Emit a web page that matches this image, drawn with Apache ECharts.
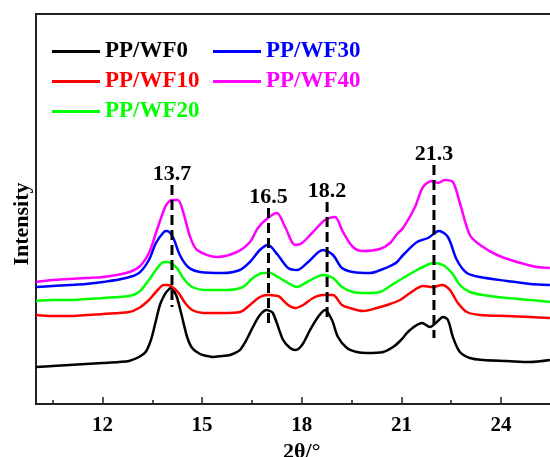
<!DOCTYPE html>
<html>
<head>
<meta charset="utf-8">
<script src="https://cdn.jsdelivr.net/npm/echarts@6/dist/echarts.min.js"></script>
<style>
  html, body { margin: 0; padding: 0; background: #fff; }
  #chart { width: 550px; height: 457px; }
</style>
</head>
<body>
<div id="chart"></div>
<script>
// XRD patterns of PP / wood-flour composites, [2θ (°), intensity (a.u.)]
const seriesNames = ['PP/WF0', 'PP/WF10', 'PP/WF20', 'PP/WF30', 'PP/WF40'];
const seriesColors = ['#000000', '#ff0000', '#00ff00', '#0000ff', '#ff00ff'];

const wf0 = [[10.0,37],[10.5,38],[11.0,39],[11.5,40],[12.0,41],[12.5,42],[12.8,43],[13.1,47],[13.3,52],[13.46,64],[13.6,82],[13.73,99],[13.85,108],[13.95,113],[14.06,116],[14.15,113],[14.24,107],[14.39,88],[14.55,67],[14.7,56],[14.94,50],[15.15,48],[15.33,47],[15.6,48],[15.84,49],[16.05,52],[16.14,54],[16.3,62],[16.38,67],[16.53,77],[16.74,89],[16.95,94],[17.04,93],[17.13,91],[17.25,81],[17.44,64],[17.65,56],[17.8,54],[18.01,59],[18.25,74],[18.49,87],[18.7,94],[18.91,84],[19.09,67],[19.36,56],[19.66,52],[19.96,51],[20.45,52],[20.75,57],[20.96,63],[21.26,74],[21.62,81],[21.86,77],[22.07,82],[22.25,87],[22.4,84],[22.55,67],[22.76,52],[23.06,46],[23.46,44],[24.18,43],[24.87,42],[25.47,44]];

const wf10 = [[10.0,89],[10.5,88],[11.0,88],[11.5,89],[12.02,90],[12.8,92],[13.1,96],[13.4,104],[13.61,112],[13.85,119],[13.95,119],[14.06,118],[14.27,112],[14.49,101],[14.7,94],[15.03,91],[15.63,91],[16.14,92],[16.44,99],[16.74,107],[16.98,109],[17.28,108],[17.34,107],[17.59,99],[17.8,96],[18.04,99],[18.34,106],[18.64,109],[18.94,109],[19.21,99],[19.45,96],[19.84,93],[20.26,96],[20.66,100],[20.96,104],[21.26,111],[21.65,118],[21.95,117],[22.22,119],[22.46,114],[22.7,101],[22.97,92],[23.37,89],[24.18,88],[24.87,87],[25.47,86]];

const wf20 = [[10.0,103],[10.5,104],[11.0,104],[11.5,105],[12.02,106],[12.8,108],[13.1,112],[13.4,124],[13.61,134],[13.85,142],[13.95,142],[14.24,136],[14.43,126],[14.7,117],[15.15,114],[15.75,114],[16.23,117],[16.53,126],[16.83,131],[17.04,131],[17.28,127],[17.59,121],[17.86,117],[18.16,122],[18.64,129],[18.94,126],[19.21,117],[19.54,112],[19.96,111],[20.35,112],[20.66,118],[21.05,126],[21.47,134],[21.65,137],[21.95,141],[22.25,139],[22.52,131],[22.76,119],[23.06,112],[23.46,109],[24.18,106],[24.87,104],[25.47,102]];

const wf30 = [[10.0,117],[10.5,118],[11.0,119],[11.5,120],[12.02,122],[12.71,126],[13.1,131],[13.4,144],[13.61,161],[13.85,172],[13.94,173],[14.12,167],[14.33,149],[14.58,137],[14.94,132],[15.63,131],[16.14,134],[16.44,142],[16.74,154],[16.98,159],[17.28,149],[17.59,136],[17.86,134],[18.16,141],[18.64,154],[18.94,149],[19.21,136],[19.54,132],[20.05,131],[20.45,135],[20.66,138],[20.87,142],[21.05,149],[21.47,162],[21.8,166],[22.13,173],[22.4,167],[22.67,144],[22.97,131],[23.37,127],[24.18,123],[24.87,120],[25.47,119]];

const wf40 = [[10.0,122],[10.5,124],[11.0,125],[11.5,126],[12.02,127],[12.71,131],[13.1,137],[13.4,151],[13.61,171],[13.85,194],[13.94,200],[14.09,204],[14.27,204],[14.43,192],[14.64,167],[14.85,154],[15.45,147],[16.05,152],[16.44,162],[16.68,176],[16.98,186],[17.25,191],[17.5,177],[17.8,159],[18.01,161],[18.31,171],[18.7,184],[19.0,187],[19.24,172],[19.54,157],[19.84,153],[20.35,155],[20.66,161],[20.87,170],[21.05,176],[21.41,197],[21.65,217],[21.92,223],[22.1,221],[22.31,224],[22.55,222],[22.76,201],[23.06,169],[23.37,159],[23.88,149],[24.48,142],[25.08,137],[25.47,136]];

const patterns = [wf0, wf10, wf20, wf30, wf40];

// Peak markers: labelled 2θ position, upper and lower end of the dashed guide (a.u.)
const peakPositions = [13.7, 16.5, 18.2, 21.3];
const peakTop = [219, 196, 202, 239];
const peakBottom = [97, 76, 82, 66];

// x axis ticks and labels
const majorTicks = [12, 15, 18, 21, 24];
const minorTicks = [10.5, 13.5, 16.5, 19.5, 22.5, 25.5];

const FONT = "'Liberation Serif', 'Times New Roman', serif";

const chart = echarts.init(document.getElementById('chart'), null, { renderer: 'canvas' });

const lineSeries = patterns.map((d, i) => ({
  name: seriesNames[i],
  type: 'line',
  xAxisIndex: 0,
  yAxisIndex: 0,
  data: d,
  symbol: 'none',
  smooth: 0.3,
  lineStyle: { color: seriesColors[i], width: 2.5 },
  itemStyle: { color: seriesColors[i] },
  z: 3
}));

const peakLineSeries = peakPositions.map((p, i) => ({
  type: 'line',
  xAxisIndex: 2,
  yAxisIndex: 0,
  data: [[p, peakTop[i]], [p, peakBottom[i]]],
  symbol: 'none',
  silent: true,
  lineStyle: { color: '#000', width: 3, type: [10, 5] },
  z: 4
}));

const peakLabelSeries = {
  type: 'scatter',
  xAxisIndex: 2,
  yAxisIndex: 0,
  data: peakPositions.map((p, i) => [p, peakTop[i]]),
  symbolSize: 0,
  silent: true,
  itemStyle: { opacity: 1, color: '#000' },
  label: {
    show: true,
    position: 'top',
    distance: 0,
    formatter: (prm) => prm.value[0].toFixed(1),
    color: '#000',
    opacity: 1,
    fontFamily: FONT,
    fontWeight: 'bold',
    fontSize: 22
  },
  z: 5
};

function legendBlock(names, left) {
  return {
    orient: 'vertical',
    left: left,
    top: 40,
    padding: 0,
    icon: 'rect',
    itemWidth: 48,
    itemHeight: 3,
    itemGap: 7,
    selectedMode: false,
    data: names.map(n => ({
      name: n,
      textStyle: { color: seriesColors[seriesNames.indexOf(n)] }
    })),
    textStyle: { fontFamily: FONT, fontWeight: 'bold', fontSize: 23 }
  };
}

chart.setOption({
  animation: false,
  backgroundColor: '#fff',
  grid: {
    left: 36, top: 14, width: 531.5, height: 390,
    outerBoundsMode: 'none',
    containLabel: false,
    show: true, borderColor: '#222', borderWidth: 2, backgroundColor: 'transparent'
  },
  legend: [
    legendBlock(['PP/WF0', 'PP/WF10', 'PP/WF20'], 52),
    legendBlock(['PP/WF30', 'PP/WF40'], 213)
  ],
  xAxis: [
    {
      type: 'value', min: 10, max: 26, position: 'bottom',
      name: '2θ/°', nameLocation: 'middle', nameGap: 32,
      nameTextStyle: { fontFamily: FONT, fontWeight: 'bold', fontSize: 22, color: '#000' },
      axisLine: { show: true, onZero: false, lineStyle: { color: '#222', width: 2 } },
      axisTick: { show: true, inside: true, length: 7, customValues: majorTicks, lineStyle: { color: '#222', width: 1.5 } },
      axisLabel: { show: true, customValues: majorTicks, margin: 11, fontFamily: FONT, fontWeight: 'bold', fontSize: 21, color: '#000' },
      splitLine: { show: false }
    },
    {
      type: 'value', min: 10, max: 26, position: 'bottom',
      axisLine: { show: false },
      axisTick: { show: true, inside: true, length: 4, customValues: minorTicks, lineStyle: { color: '#222', width: 1.5 } },
      axisLabel: { show: false },
      splitLine: { show: false }
    },
    {
      // calibration for the labelled peak guides
      type: 'value', min: 9.755, max: 25.174, show: false,
      splitLine: { show: false }
    }
  ],
  yAxis: {
    type: 'value', min: 0, max: 390,
    name: 'Intensity', nameLocation: 'middle', nameGap: 3, nameRotate: 90,
    nameTextStyle: { fontFamily: FONT, fontWeight: 'bold', fontSize: 22, color: '#000', padding: [0, 30, 0, 0] },
    axisLine: { show: true, onZero: false, lineStyle: { color: '#222', width: 2 } },
    axisTick: { show: false },
    axisLabel: { show: false },
    splitLine: { show: false }
  },
  series: [...lineSeries, ...peakLineSeries, peakLabelSeries]
});
</script>
</body>
</html>
